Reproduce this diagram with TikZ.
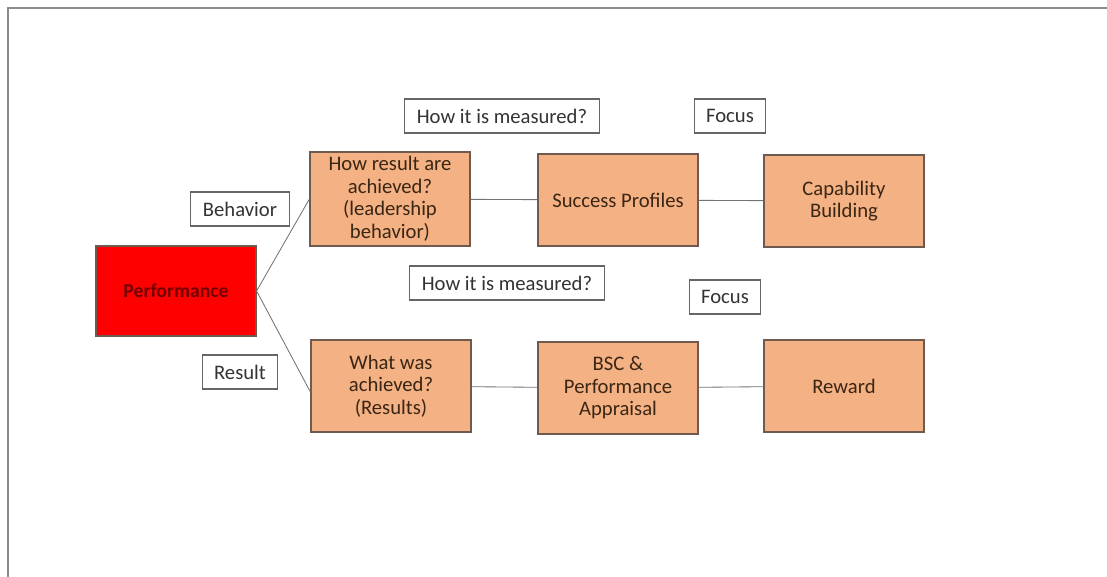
\documentclass[tikz,border=0pt]{standalone}
\usepackage{fontspec}
\setmainfont{Carlito}
\usepackage{tikz}
\usetikzlibrary{positioning}

\definecolor{boxfill}{HTML}{F4B183}
\definecolor{boxline}{HTML}{6E5A4E}
\definecolor{boxtext}{HTML}{3A2614}

\begin{document}
\begin{tikzpicture}[
  x=0.025cm, y=-0.025cm,
  every node/.style={font=\fontsize{14.7}{16}\selectfont},
  perfbox/.style={draw=boxline, fill=red, line width=0.8pt,
                  minimum width=4cm, minimum height=2.25cm, align=center,
                  text=red!45!black, font=\fontsize{14}{16}\selectfont\bfseries},
  stepbox/.style={draw=boxline, fill=boxfill, line width=0.8pt,
                  minimum width=4cm, minimum height=2.3cm, align=center,
                  text=boxtext},
  tag/.style={draw=black!60, fill=white, line width=0.8pt,
              minimum height=0.85cm, inner xsep=0.3cm, text=black!80},
  link/.style={black!55, line width=0.6pt}
]

%--- frame ---
\useasboundingbox (0,0) rectangle (1107,577);
\draw[black!45, line width=1.4pt] (8,577) -- (8,8) -- (1107,8);

%--- Root ---
\node[perfbox] (perf) at (176,291) {Performance};

%--- Upper row: behavior ---
\node[stepbox] (howres) at (390,199) {How result are\\achieved?\\(leadership\\behavior)};
\node[stepbox] (success) at (618,200) {Success Profiles};
\node[stepbox] (capab) at (844,201) {Capability\\Building};

%--- Lower row: results ---
\node[stepbox] (whatwas) at (391,386) {What was\\achieved?\\(Results)};
\node[stepbox] (bsc) at (618,388) {BSC \&\\Performance\\Appraisal};
\node[stepbox] (reward) at (844,386) {Reward};

%--- Tags ---
\node[tag] (measure1) at (502,116) {How it is measured?};
\node[tag] (focus1) at (730,116) {Focus};
\node[tag] (behav) at (240,209) {Behavior};
\node[tag] (measure2) at (507,283) {How it is measured?};
\node[tag] (focus2) at (725,297) {Focus};
\node[tag] (result) at (240,372) {Result};

%--- Links ---
\draw[link] (perf.east) -- (howres.west);
\draw[link] (perf.east) -- ([yshift=-0.15cm]whatwas.west);
\draw[link] (howres) -- (success);
\draw[link] (success) -- (capab);
\draw[link] (whatwas) -- (bsc);
\draw[link] (bsc) -- (reward);

\end{tikzpicture}
\end{document}
